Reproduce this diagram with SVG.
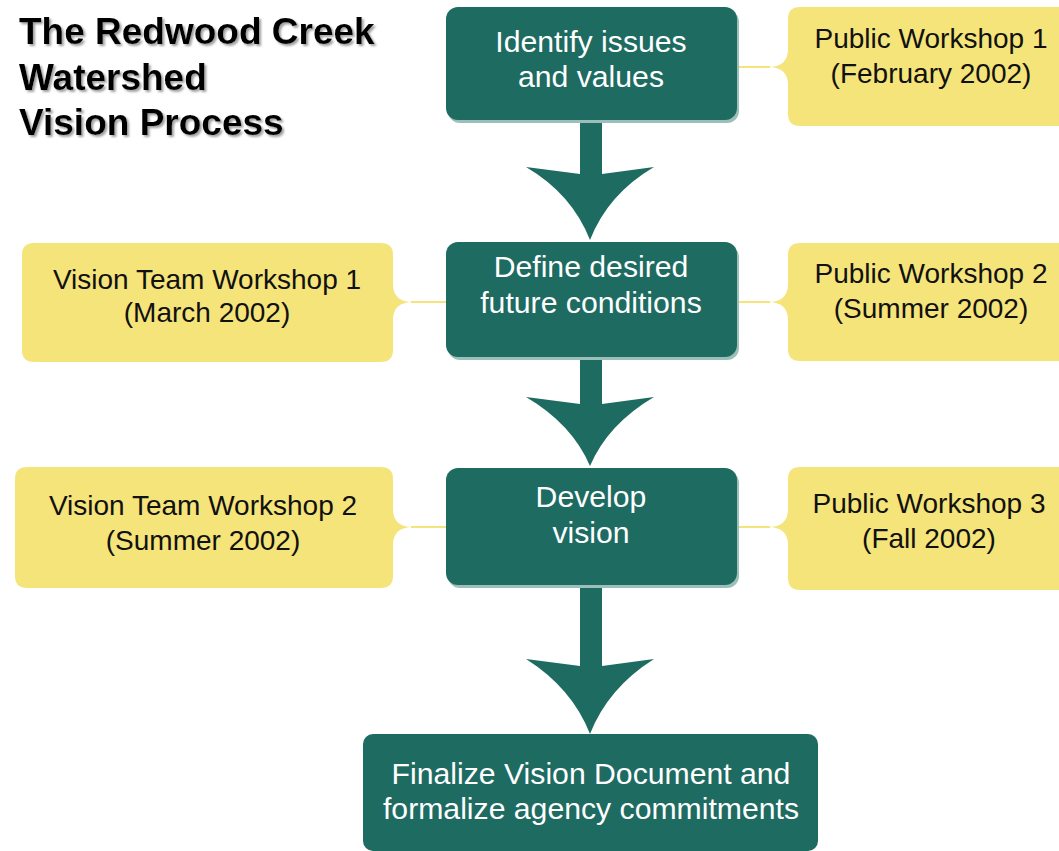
<svg xmlns="http://www.w3.org/2000/svg" width="1059" height="851" viewBox="0 0 1059 851">
<defs>
<style>
.g{fill:#1e6b62}
.gs{fill:#9cc0b9}
.y{fill:#f5e47a}
.ln{stroke:#f5e47a;stroke-width:2;fill:none}
.wt{font-family:"Liberation Sans",Arial,sans-serif;font-size:30.2px;fill:#ffffff;text-anchor:middle}
.bt{font-family:"Liberation Sans",Arial,sans-serif;font-size:28px;fill:#111111;text-anchor:middle}
.tt{font-family:"Liberation Sans",Arial,sans-serif;font-size:37px;font-weight:bold;fill:#000000}
</style>
<filter id="sh" x="-5%" y="-5%" width="115%" height="130%">
<feDropShadow dx="2" dy="2" stdDeviation="1" flood-color="#888888" flood-opacity="0.8"/>
</filter>
</defs>
<rect width="1059" height="851" fill="#ffffff"/>

<g id="title" filter="url(#sh)">
<text class="tt" x="19" y="44">The Redwood Creek</text>
<text class="tt" x="19" y="90">Watershed</text>
<text class="tt" x="19" y="135">Vision Process</text>
</g>

<g id="connectors">
<line class="ln" x1="737" y1="67" x2="770" y2="67"/>
<line class="ln" x1="737" y1="302" x2="770" y2="302"/>
<line class="ln" x1="737" y1="527" x2="770" y2="527"/>
<line class="ln" x1="411" y1="302" x2="446" y2="302"/>
<line class="ln" x1="411" y1="527" x2="446" y2="527"/>
<path class="g" d="M580,118 H602 V174 L654,167 Q608,194 590,240 Q572,194 526,167 L580,174 Z"/>
<path class="g" d="M580,355 H602 V404 L654,397 Q608,424 590,466 Q572,424 526,397 L580,404 Z"/>
<path class="g" d="M580,584 H602 V666 L654,659 Q608,688 590,734 Q572,688 526,659 L580,666 Z"/>
</g>

<g id="step1">
<rect class="gs" x="448" y="10" width="291" height="113" rx="12"/>
<rect class="g" x="446" y="7" width="291" height="113" rx="12"/>
<text class="wt" x="591" y="52">Identify issues</text>
<text class="wt" x="591" y="87">and values</text>
</g>

<g id="step2">
<rect class="gs" x="448" y="245" width="291" height="115" rx="12"/>
<rect class="g" x="446" y="242" width="291" height="115" rx="12"/>
<text class="wt" x="591" y="277">Define desired</text>
<text class="wt" x="591" y="313">future conditions</text>
</g>

<g id="step3">
<rect class="gs" x="448" y="471" width="291" height="117" rx="12"/>
<rect class="g" x="446" y="468" width="291" height="117" rx="12"/>
<text class="wt" x="591" y="507">Develop</text>
<text class="wt" x="591" y="543">vision</text>
</g>

<g id="step4">
<rect class="g" x="363" y="734" width="455" height="117" rx="10"/>
<text class="wt" x="591" y="784">Finalize Vision Document and</text>
<text class="wt" x="591" y="819">formalize agency commitments</text>
</g>

<g id="pw1">
<path class="y" d="M800,7 H1070 V126 H800 Q788,126 788,114 V85 Q788,67 768,67 Q788,67 788,49 V19 Q788,7 800,7 Z"/>
<text class="bt" x="931" y="48">Public Workshop 1</text>
<text class="bt" x="931" y="83">(February 2002)</text>
</g>

<g id="pw2">
<path class="y" d="M800,243 H1070 V361 H800 Q788,361 788,349 V320 Q788,302 768,302 Q788,302 788,284 V255 Q788,243 800,243 Z"/>
<text class="bt" x="931" y="283">Public Workshop 2</text>
<text class="bt" x="931" y="318">(Summer 2002)</text>
</g>

<g id="pw3">
<path class="y" d="M800,467 H1070 V590 H800 Q788,590 788,578 V545 Q788,527 768,527 Q788,527 788,509 V479 Q788,467 800,467 Z"/>
<text class="bt" x="929" y="513">Public Workshop 3</text>
<text class="bt" x="929" y="548">(Fall 2002)</text>
</g>

<g id="vt1">
<path class="y" d="M34,243 H381 Q393,243 393,255 V284 Q393,302 413,302 Q393,302 393,320 V350 Q393,362 381,362 H34 Q22,362 22,350 V255 Q22,243 34,243 Z"/>
<text class="bt" x="207" y="289">Vision Team Workshop 1</text>
<text class="bt" x="207" y="322">(March 2002)</text>
</g>

<g id="vt2">
<path class="y" d="M27,467 H381 Q393,467 393,479 V509 Q393,527 413,527 Q393,527 393,545 V576 Q393,588 381,588 H27 Q15,588 15,576 V479 Q15,467 27,467 Z"/>
<text class="bt" x="203" y="515">Vision Team Workshop 2</text>
<text class="bt" x="203" y="550">(Summer 2002)</text>
</g>
</svg>
